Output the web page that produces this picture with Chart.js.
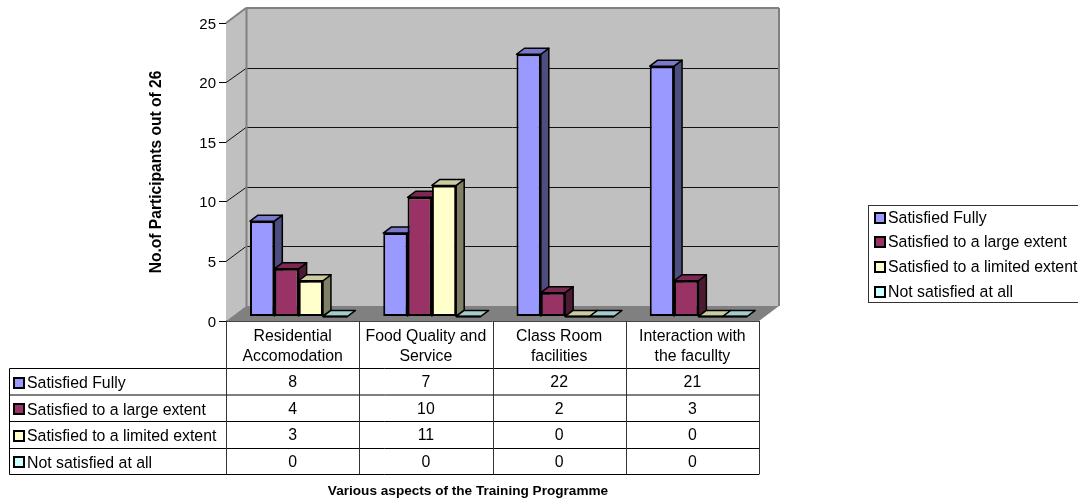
<!DOCTYPE html>
<html>
<head>
<meta charset="utf-8">
<title>Training Programme</title>
<script src="https://cdn.jsdelivr.net/npm/chart.js@4/dist/chart.umd.min.js"></script>
<style>
  html, body { margin: 0; padding: 0; background: #fff; overflow: hidden; }
  canvas { display: block; }
</style>
</head>
<body>
<canvas id="myChart" width="1078" height="503"></canvas>
<script>
// data
const categories = [
  ["Residential", "Accomodation"],
  ["Food Quality and", "Service"],
  ["Class Room", "facilities"],
  ["Interaction with", "the facullty"]
];
const seriesNames = ["Satisfied Fully", "Satisfied to a large extent", "Satisfied to a limited extent", "Not satisfied at all"];
const satisfiedFully = [8, 7, 22, 21];
const satisfiedLarge = [4, 10, 2, 3];
const satisfiedLimited = [3, 11, 0, 0];
const notSatisfied = [0, 0, 0, 0];
const seriesValues = [satisfiedFully, satisfiedLarge, satisfiedLimited, notSatisfied];
const yTicks = [0, 5, 10, 15, 20, 25];

// colours: front, top, side
const front = ["#9999FF", "#993366", "#FFFFCC", "#CCFFFF"];
const topFace = ["#7A7ACC", "#7A2952", "#CCCCA3", "#A3CCCC"];
const sideFace = ["#4D4D80", "#4D1A33", "#808066", "#668080"];

const FONT = '"Liberation Sans", Arial, sans-serif';
const TEXT_SIZE = 15.85;

// depth of the box and of the bars
const boxDx = 20, boxDy = 15;
const barOffX = 6, barOffY = 4.5;
const barDx = 8, barDy = 6;

function poly(ctx, pts, fill, stroke, lw) {
  ctx.beginPath();
  pts.forEach(function(p, i) { i ? ctx.lineTo(p[0], p[1]) : ctx.moveTo(p[0], p[1]); });
  ctx.closePath();
  if (fill) { ctx.fillStyle = fill; ctx.fill(); }
  if (stroke) { ctx.strokeStyle = stroke; ctx.lineWidth = lw; ctx.stroke(); }
}

function line(ctx, x1, y1, x2, y2, color, lw) {
  ctx.beginPath();
  ctx.moveTo(x1, y1);
  ctx.lineTo(x2, y2);
  ctx.strokeStyle = color;
  ctx.lineWidth = lw;
  ctx.stroke();
}

function swatch(ctx, x, y, color) {
  ctx.fillStyle = "#000";
  ctx.fillRect(x, y - 6, 12, 12);
  ctx.fillStyle = color;
  ctx.fillRect(x + 2, y - 4, 8, 8);
}

// walls, floor and grid of the 3d box
const walls = {
  id: "walls",
  beforeDatasetsDraw(chart) {
    const ctx = chart.ctx, a = chart.chartArea, y = chart.scales.y;
    const l = a.left, r = a.right, t = y.getPixelForValue(25), b = y.getPixelForValue(0);
    ctx.save();
    poly(ctx, [[l + boxDx, t - boxDy], [r + boxDx, t - boxDy], [r + boxDx, b - boxDy], [l + boxDx, b - boxDy]], "#C0C0C0");
    poly(ctx, [[l, t], [l + boxDx, t - boxDy], [l + boxDx, b - boxDy], [l, b]], "#C0C0C0");
    yTicks.forEach(function(v) {
      if (v == 0 || v == 25) return;
      const p = y.getPixelForValue(v);
      const back = Math.round(p - boxDy) + 0.5;
      line(ctx, l, p, l + boxDx, back, "#111", 1);
      line(ctx, l + boxDx, back, r + boxDx, back, "#111", 1);
    });
    poly(ctx, [[l, b], [r, b], [r + boxDx, b - boxDy], [l + boxDx, b - boxDy]], "#808080");
    line(ctx, l, t, l + boxDx, t - boxDy, "#808080", 2);
    line(ctx, l + boxDx, t - boxDy, r + boxDx, t - boxDy, "#808080", 2);
    line(ctx, r + boxDx, t - boxDy, r + boxDx, b - boxDy, "#808080", 2);
    line(ctx, l + boxDx + 0.5, t - boxDy, l + boxDx + 0.5, b - boxDy, "#808080", 2);
    ctx.restore();

    // bars left to right, so each front hides the side of the one before
    seriesValues.forEach(function(values, i) {
      const meta = chart.getDatasetMeta(i);
      ctx.save();
      ctx.translate(barOffX, -barOffY);
      ctx.lineJoin = "round";
      meta.data.forEach(function(el) {
        const x1 = el.x - el.width / 2, x2 = el.x + el.width / 2;
        poly(ctx, [[x2, el.y], [x2 + barDx, el.y - barDy], [x2 + barDx, el.base - barDy], [x2, el.base]], sideFace[i], "#000", 1.5);
        poly(ctx, [[x1, el.y], [x2, el.y], [x2 + barDx, el.y - barDy], [x1 + barDx, el.y - barDy]], topFace[i], "#000", 1.5);
      });
      meta.controller.draw();
      meta.data.forEach(function(el) {
        if (Math.abs(el.base - el.y) < 1) line(ctx, el.x - el.width / 2, el.y, el.x + el.width / 2, el.y, "#000", 2);
      });
      ctx.restore();
    });
    return false;
  }
};

// data table under the chart and the legend box on the right
const tableAndLegend = {
  id: "tableAndLegend",
  afterDraw(chart) {
    const ctx = chart.ctx, a = chart.chartArea;
    const rows = [368.5, 395, 421.5, 448.5, 474.5];
    const textY = [383, 409.5, 436, 462.5];
    const swatchY = [383, 409, 436, 462];
    const tableLeft = 9.5;
    const colW = (a.right - a.left) / categories.length;
    ctx.save();
    line(ctx, a.left, a.bottom + 0.5, a.right, a.bottom + 0.5, "#444", 1);
    rows.forEach(function(y) { line(ctx, tableLeft, y, a.right, y, "#000", 1); });
    line(ctx, tableLeft, rows[0], tableLeft, rows[4], "#000", 1);
    for (let c = 0; c <= categories.length; c++) {
      const x = Math.round(a.left + colW * c) + 0.5;
      line(ctx, x, a.bottom, x, rows[4], "#333", 1);
    }
    ctx.font = TEXT_SIZE + "px " + FONT;
    ctx.textBaseline = "middle";
    seriesNames.forEach(function(name, i) {
      swatch(ctx, 13, swatchY[i], front[i]);
      ctx.fillStyle = "#000";
      ctx.textAlign = "left";
      ctx.fillText(name, 27, textY[i] + 1);
      ctx.textAlign = "center";
      seriesValues[i].forEach(function(v, c) {
        ctx.fillText(String(v), a.left + colW * (c + 0.5), textY[i]);
      });
    });

    // legend
    ctx.strokeStyle = "#333";
    ctx.lineWidth = 1;
    ctx.strokeRect(868.5, 205.5, 212, 97);
    const legendY = [218, 242, 267, 292];
    seriesNames.forEach(function(name, i) {
      swatch(ctx, 874, legendY[i], front[i]);
      ctx.fillStyle = "#000";
      ctx.textAlign = "left";
      ctx.fillText(name, 888, legendY[i] + 1);
    });

    // x title is centred on the whole table, not on the plot
    ctx.font = "bold 13.6px " + FONT;
    ctx.textAlign = "center";
    ctx.fillText("Various aspects of the Training Programme", 468, 491.5);
    ctx.restore();
  }
};

const ctx = document.getElementById("myChart").getContext("2d");
const myChart = new Chart(ctx, {
  type: "bar",
  data: {
    labels: categories,
    datasets: seriesNames.map(function(name, i) {
      return {
        label: name,
        data: seriesValues[i],
        backgroundColor: front[i],
        borderColor: "#000",
        borderWidth: 2,
        borderSkipped: false
      };
    })
  },
  options: {
    responsive: false,
    animation: false,
    events: [],
    categoryPercentage: 0.73,
    barPercentage: 1,
    layout: { padding: { top: 23, right: 319, bottom: 0, left: 0 } },
    plugins: { legend: { display: false }, tooltip: { enabled: false } },
    scales: {
      x: {
        afterFit(scale) { scale.height = 182; },
        grid: { display: false, drawTicks: false, tickLength: 0 },
        border: { display: false },
        ticks: {
          color: "#000",
          padding: 6,
          autoSkip: false,
          maxRotation: 0,
          font: { family: FONT, size: TEXT_SIZE, lineHeight: 1.262 }
        }
      },
      y: {
        min: 0,
        max: 25,
        afterFit(scale) { scale.width = 226; },
        afterBuildTicks(scale) { scale.ticks = yTicks.map(function(v) { return { value: v }; }); },
        border: { color: "#000", width: 1 },
        grid: { drawOnChartArea: false, color: "#000", tickLength: 7 },
        ticks: { color: "#000", padding: 3, labelOffset: 1.5, font: { family: FONT, size: 15 } },
        title: {
          display: true,
          text: "No.of Participants out of 26",
          color: "#000",
          padding: { top: 147.5, bottom: 0 },
          font: { family: FONT, size: 15.6, weight: "bold" }
        }
      }
    }
  },
  plugins: [walls, tableAndLegend]
});
</script>
</body>
</html>
